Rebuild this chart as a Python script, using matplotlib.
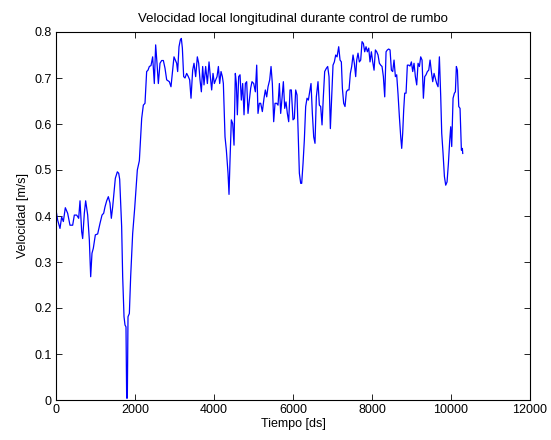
import matplotlib
matplotlib.use("Agg")
import matplotlib.pyplot as plt

# tiempo [ds] y velocidad [m/s]
tiempo = [0, 42, 101, 143, 186, 236, 295, 354, 422, 464, 523, 574, 608, 650, 675,
          717, 751, 802, 844, 878, 911, 945, 996, 1055, 1114, 1165, 1207, 1241, 1283,
          1325, 1367, 1401, 1435, 1502, 1553, 1587, 1612, 1662, 1688, 1722, 1747,
          1772, 1789, 1806, 1823, 1857, 1890, 1941, 1992, 2025, 2059, 2110, 2169,
          2211, 2253, 2295, 2329, 2363, 2405, 2447, 2489, 2523, 2557, 2591, 2633,
          2675, 2718, 2760, 2802, 2869, 2911, 2953, 2987, 3021, 3055, 3080, 3114,
          3148, 3173, 3199, 3232, 3266, 3308, 3350, 3384, 3418, 3460, 3494, 3536,
          3578, 3612, 3646, 3680, 3713, 3747, 3789, 3832, 3874, 3907, 3941, 3975,
          4009, 4043, 4077, 4111, 4144, 4178, 4212, 4237, 4279, 4313, 4355, 4380,
          4405, 4439, 4473, 4507, 4540, 4566, 4591, 4625, 4659, 4692, 4726, 4760,
          4794, 4827, 4861, 4895, 4929, 4962, 5005, 5047, 5081, 5114, 5148, 5182,
          5224, 5266, 5300, 5334, 5368, 5410, 5444, 5477, 5511, 5545, 5587, 5621,
          5655, 5688, 5722, 5756, 5790, 5823, 5857, 5891, 5925, 5958, 6000, 6034,
          6068, 6102, 6135, 6161, 6195, 6220, 6254, 6287, 6321, 6355, 6389, 6422,
          6456, 6490, 6524, 6557, 6591, 6633, 6667, 6701, 6735, 6768, 6802, 6844,
          6878, 6912, 6946, 6979, 7013, 7047, 7081, 7115, 7157, 7191, 7224, 7250,
          7283, 7317, 7351, 7385, 7418, 7452, 7486, 7520, 7553, 7587, 7613, 7646,
          7680, 7714, 7748, 7782, 7815, 7849, 7883, 7917, 7950, 7984, 8018, 8052,
          8086, 8119, 8153, 8187, 8220, 8254, 8288, 8322, 8356, 8389, 8423, 8457,
          8491, 8524, 8558, 8592, 8625, 8659, 8693, 8727, 8752, 8777, 8802, 8828,
          8862, 8895, 8929, 8963, 8997, 9031, 9064, 9098, 9132, 9166, 9200, 9233,
          9267, 9301, 9335, 9368, 9402, 9436, 9470, 9503, 9537, 9571, 9605, 9638,
          9672, 9706, 9740, 9765, 9799, 9833, 9866, 9900, 9934, 9968, 9993, 10018,
          10052, 10086, 10111, 10136, 10162, 10196, 10229, 10263, 10288, 10297]
velocidad = [0.413, 0.391, 0.373, 0.398, 0.388, 0.418, 0.406, 0.380, 0.380, 0.402,
             0.402, 0.395, 0.433, 0.366, 0.351, 0.406, 0.433, 0.402, 0.348, 0.268,
             0.319, 0.330, 0.359, 0.361, 0.384, 0.402, 0.406, 0.420, 0.433, 0.442,
             0.428, 0.395, 0.420, 0.482, 0.496, 0.493, 0.480, 0.377, 0.268, 0.181,
             0.163, 0.159, 0.004, 0.004, 0.181, 0.188, 0.268, 0.362, 0.417, 0.457,
             0.500, 0.520, 0.612, 0.641, 0.645, 0.714, 0.717, 0.725, 0.727, 0.746,
             0.688, 0.772, 0.732, 0.688, 0.732, 0.738, 0.738, 0.721, 0.696, 0.692,
             0.681, 0.717, 0.746, 0.739, 0.732, 0.714, 0.768, 0.783, 0.786, 0.765,
             0.703, 0.700, 0.710, 0.703, 0.696, 0.656, 0.717, 0.732, 0.703, 0.746,
             0.732, 0.696, 0.670, 0.725, 0.685, 0.725, 0.688, 0.735, 0.703, 0.674,
             0.710, 0.688, 0.696, 0.703, 0.725, 0.688, 0.714, 0.703, 0.688, 0.572,
             0.543, 0.493, 0.447, 0.520, 0.609, 0.601, 0.554, 0.710, 0.688, 0.620,
             0.703, 0.707, 0.652, 0.688, 0.620, 0.688, 0.692, 0.623, 0.652, 0.678,
             0.692, 0.688, 0.670, 0.728, 0.623, 0.645, 0.645, 0.627, 0.656, 0.674,
             0.659, 0.681, 0.696, 0.725, 0.688, 0.605, 0.645, 0.645, 0.641, 0.688,
             0.623, 0.656, 0.692, 0.634, 0.648, 0.623, 0.605, 0.674, 0.674, 0.609,
             0.612, 0.674, 0.663, 0.572, 0.493, 0.471, 0.471, 0.514, 0.565, 0.638,
             0.656, 0.652, 0.670, 0.688, 0.623, 0.572, 0.558, 0.659, 0.692, 0.641,
             0.638, 0.598, 0.659, 0.714, 0.721, 0.725, 0.703, 0.590, 0.659, 0.728,
             0.735, 0.750, 0.746, 0.768, 0.739, 0.735, 0.678, 0.645, 0.638, 0.670,
             0.674, 0.674, 0.710, 0.725, 0.750, 0.732, 0.703, 0.739, 0.754, 0.735,
             0.739, 0.779, 0.775, 0.757, 0.768, 0.757, 0.765, 0.735, 0.757, 0.735,
             0.717, 0.761, 0.757, 0.750, 0.732, 0.728, 0.725, 0.703, 0.659, 0.757,
             0.761, 0.763, 0.761, 0.717, 0.714, 0.739, 0.703, 0.707, 0.665, 0.616,
             0.572, 0.547, 0.580, 0.630, 0.667, 0.667, 0.728, 0.728, 0.726, 0.735,
             0.714, 0.732, 0.703, 0.685, 0.732, 0.725, 0.746, 0.739, 0.656, 0.703,
             0.707, 0.714, 0.717, 0.739, 0.714, 0.692, 0.710, 0.699, 0.688, 0.681,
             0.746, 0.659, 0.580, 0.536, 0.486, 0.467, 0.474, 0.514, 0.565, 0.594,
             0.551, 0.656, 0.667, 0.670, 0.725, 0.717, 0.638, 0.634, 0.543, 0.547,
             0.536]

plt.rcParams['font.family'] = ['Liberation Sans', 'DejaVu Sans']
plt.rcParams['font.size'] = 9

fig = plt.figure(figsize=(5.51, 4.40), dpi=100)
ax = fig.add_axes([56 / 551, 40 / 440, 474 / 551, 368 / 440])
ax.plot(tiempo, velocidad, color=(0, 0, 1), linewidth=0.9)

ax.set_xlim(0, 12000)
ax.set_ylim(0, 0.8)
ax.set_xticks(range(0, 12001, 2000))
ax.set_yticks([i / 10 for i in range(9)])
ax.set_yticklabels(['0'] + ['%.1f' % (i / 10) for i in range(1, 9)])
ax.tick_params(direction='in', top=True, right=True, length=4, width=0.6, pad=3)
for s in ax.spines.values():
    s.set_linewidth(0.8)

ax.set_title('Velocidad local longitudinal durante control de rumbo', fontsize=9.5, pad=7)
ax.set_xlabel('Tiempo [ds]', labelpad=1)
ax.set_ylabel('Velocidad [m/s]', labelpad=4)

fig.savefig('out.png', dpi=100)
